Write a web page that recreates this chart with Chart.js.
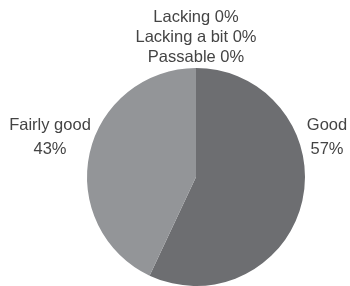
<!DOCTYPE html>
<html>
<head>
<meta charset="utf-8">
<script src="https://cdn.jsdelivr.net/npm/chart.js@4.4.1/dist/chart.umd.min.js"></script>
<style>
  html, body { margin: 0; padding: 0; background: #fff; }
  #wrap { width: 350px; height: 286px; }
</style>
</head>
<body>
<div id="wrap"><canvas id="myChart"></canvas></div>
<script>
const labels = ["Good", "Fairly good", "Lacking", "Lacking a bit", "Passable"];
const values = [57, 43, 0, 0, 0];
const colors = ["#6d6e71", "#939598", "#bcbec0", "#d1d3d4", "#e6e7e8"];

// labels outside the pie, zero slices stacked above the top
const outLabels = {
  id: "outLabels",
  afterDraw(chart) {
    const ctx = chart.ctx;
    const meta = chart.getDatasetMeta(0);
    ctx.save();
    ctx.font = "16.5px 'Liberation Sans', Arial, sans-serif";
    ctx.fillStyle = "#444";
    ctx.textAlign = "center";
    ctx.textBaseline = "middle";
    const zeros = [];
    meta.data.forEach((arc, i) => {
      const v = values[i];
      if (v === 0) { zeros.push(i); return; }
      const mid = (arc.startAngle + arc.endAngle) / 2;
      const side = Math.cos(mid) >= 0 ? 1 : -1;
      const x = arc.x + side * (arc.outerRadius + (side > 0 ? 22 : 37));
      const y = arc.y - 52;
      ctx.fillText(labels[i], x, y);
      ctx.fillText(v + "%", x, y + 24);
    });
    const a0 = meta.data[0];
    zeros.forEach((i, k) => {
      const y = a0.y - a0.outerRadius - 11 - (zeros.length - 1 - k) * 20;
      ctx.fillText(labels[i] + " " + values[i] + "%", a0.x, y);
    });
    ctx.restore();
  }
};

new Chart(document.getElementById("myChart"), {
  type: "pie",
  data: {
    labels: labels,
    datasets: [{
      data: values,
      backgroundColor: colors,
      borderWidth: 0
    }]
  },
  options: {
    responsive: true,
    maintainAspectRatio: false,
    animation: false,
    layout: { padding: { top: 68, bottom: 0, left: 87, right: 45 } },
    plugins: {
      legend: { display: false },
      tooltip: { enabled: false }
    }
  },
  plugins: [outLabels]
});
</script>
</body>
</html>
